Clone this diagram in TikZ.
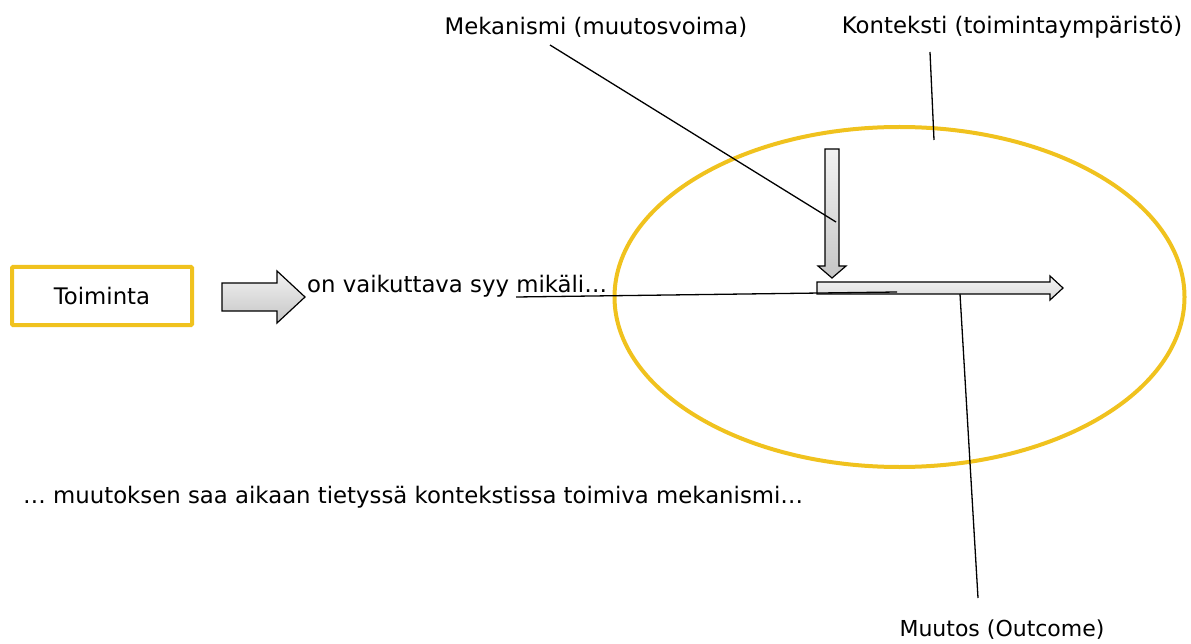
\documentclass[tikz,border=0pt]{standalone}
\usepackage{fontspec}
\setmainfont{DejaVu Sans}
\definecolor{ylw}{RGB}{240,194,30}
\begin{document}
\begin{tikzpicture}[x=1pt,y=-1pt,
  lbl/.style={inner sep=0pt,font=\fontsize{22.8}{26}\selectfont},
  callout/.style={draw=black,line width=1.3pt},
  blockarrow/.style={draw=black,line width=1.2pt,top color=gray!10,bottom color=gray!45},
  ylwline/.style={draw=ylw,line width=4pt}]
\useasboundingbox (0,0) rectangle (1191,644);
% box
\node[ylwline,minimum width=180,minimum height=58,inner sep=0pt,rounded corners=1pt] (box) at (102,296) {};
\node[lbl] (toim) at (102,296) {Toiminta};
% big block arrow
\path[blockarrow] (222,283) -- (277,283) -- (277,271) -- (305,297) -- (277,323) -- (277,311) -- (222,311) -- cycle;
\node[lbl,anchor=west] (syy) at (307,286) {on vaikuttava syy mikäli…};
% ellipse
\draw[ylwline] (899.5,297) ellipse [x radius=285, y radius=170];
% right arrow
\path[blockarrow,top color=gray!8,bottom color=gray!30] (817,282) -- (1050,282) -- (1050,276) -- (1063,288) -- (1050,300) -- (1050,294) -- (817,294) -- cycle;
% down arrow
\path[blockarrow] (825,149) -- (839,149) -- (839,266) -- (846,266) -- (832,278) -- (818,266) -- (825,266) -- cycle;
% labels
\node[lbl] (mek) at (596,27) {Mekanismi (muutosvoima)};
\node[lbl] (kon) at (1012,27) {Konteksti (toimintaympäristö)};
\node[lbl,anchor=west] (muut) at (23,497) {… muutoksen saa aikaan tietyssä kontekstissa toimiva mekanismi…};
\node[lbl,font=\fontsize{22}{26}\selectfont] (out) at (1002,630) {Muutos (Outcome)};
% callout lines
\coordinate (mekend) at (836,222);
\coordinate (konend) at (934,140);
\coordinate (syy1) at (516,297);
\coordinate (syy2) at (897,292);
\coordinate (outend) at (960,294);
\coordinate (mekstart) at (550,45);
\coordinate (konstart) at (930,52);
\coordinate (outstart) at (978,598);
\draw[callout] (mekstart) -- (mekend);
\draw[callout] (konstart) -- (konend);
\draw[callout] (syy1) -- (syy2);
\draw[callout] (outend) -- (outstart);
\end{tikzpicture}
\end{document}
